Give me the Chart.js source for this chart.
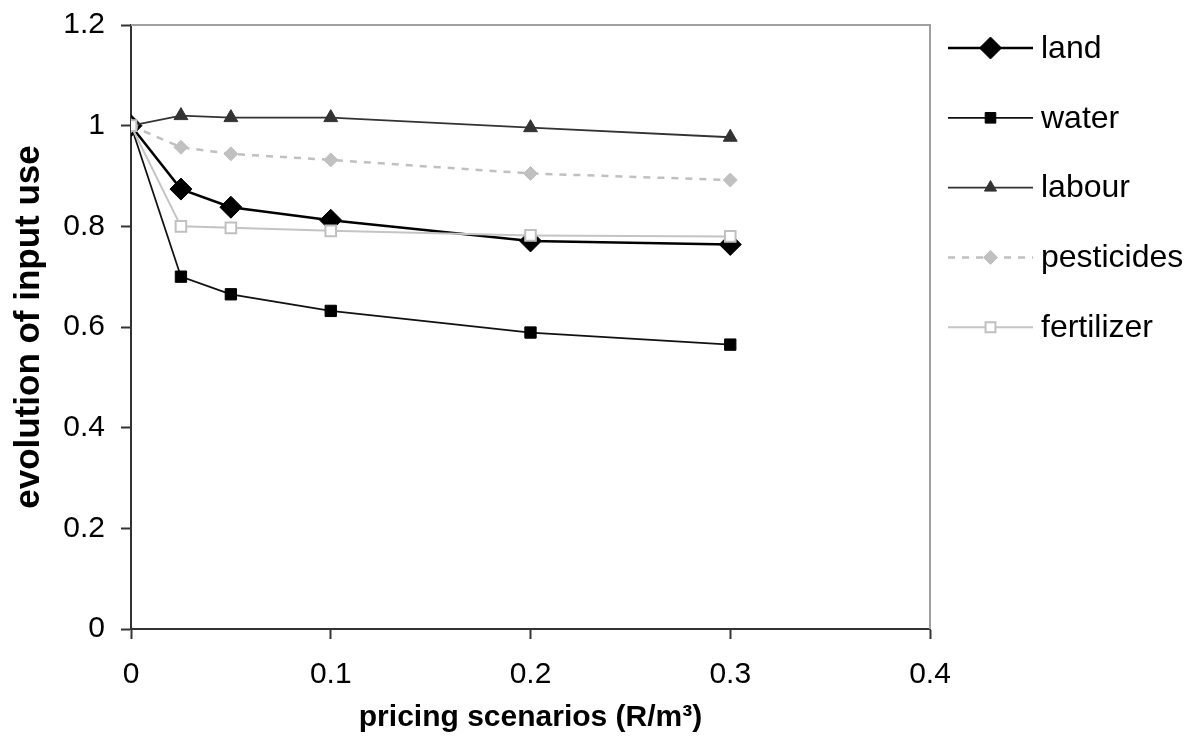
<!DOCTYPE html>
<html>
<head>
<meta charset="utf-8">
<script src="https://cdn.jsdelivr.net/npm/chart.js@4/dist/chart.umd.min.js"></script>
<style>
  body { margin: 0; background: #fff; }
  #c { display: block; }
</style>
</head>
<body>
<canvas id="c" width="1195" height="746"></canvas>
<script>
// pricing scenarios (R/m3)
const prices = [0, 0.025, 0.05, 0.1, 0.2, 0.3];

const land       = [1, 0.874, 0.838, 0.812, 0.771, 0.764];
const water      = [1, 0.700, 0.665, 0.632, 0.589, 0.565];
const labour     = [1, 1.020, 1.016, 1.016, 0.996, 0.977];
const pesticides = [1, 0.957, 0.944, 0.932, 0.905, 0.892];
const fertilizer = [1, 0.800, 0.797, 0.791, 0.782, 0.780];

const xTicks = [0, 0.1, 0.2, 0.3, 0.4];
const yTicks = [0, 0.2, 0.4, 0.6, 0.8, 1, 1.2];

const FONT = "'Liberation Sans', Arial, sans-serif";

function pts(vals) {
  return vals.map((v, i) => ({ x: prices[i], y: v }));
}

function marker(ctx, style, r, x, y, fill, stroke, lw) {
  ctx.save();
  ctx.beginPath();
  if (style === 'rectRot') {
    ctx.moveTo(x - r, y); ctx.lineTo(x, y - r); ctx.lineTo(x + r, y); ctx.lineTo(x, y + r);
  } else if (style === 'rect') {
    const s = Math.SQRT1_2 * r;
    ctx.rect(x - s, y - s, 2 * s, 2 * s);
  } else if (style === 'triangle') {
    for (let k = 0; k < 3; k++) {
      const a = k * 2 * Math.PI / 3;
      const px = x + Math.sin(a) * r, py = y - Math.cos(a) * r;
      if (k === 0) ctx.moveTo(px, py); else ctx.lineTo(px, py);
    }
  }
  ctx.closePath();
  ctx.fillStyle = fill;
  ctx.fill();
  ctx.lineWidth = lw;
  ctx.strokeStyle = stroke;
  ctx.stroke();
  ctx.restore();
}

const framePlugin = {
  id: 'frame',
  beforeDatasetsDraw(chart) {
    const { ctx, chartArea: a } = chart;
    ctx.save();
    ctx.strokeStyle = '#a0a0a0';
    ctx.lineWidth = 2;
    ctx.beginPath();
    ctx.moveTo(a.left, a.top);
    ctx.lineTo(a.right, a.top);
    ctx.lineTo(a.right, a.bottom);
    ctx.stroke();
    ctx.restore();
  }
};

const legendPlugin = {
  id: 'sideLegend',
  afterDraw(chart) {
    const ctx = chart.ctx;
    const x0 = 948, x1 = 1033, tx = 1041;
    const y0 = 48, step = 69.8;
    chart.data.datasets.forEach((ds, i) => {
      const y = y0 + i * step;
      ctx.save();
      ctx.strokeStyle = ds.borderColor;
      ctx.lineWidth = ds.borderWidth;
      ctx.setLineDash(ds.borderDash || []);
      ctx.beginPath();
      ctx.moveTo(x0, y);
      ctx.lineTo(x1, y);
      ctx.stroke();
      ctx.setLineDash([]);
      marker(ctx, ds.pointStyle, ds.legendRadius, (x0 + x1) / 2, y,
        ds.pointBackgroundColor, ds.pointBorderColor, ds.pointBorderWidth);
      ctx.fillStyle = '#000';
      ctx.font = '32px ' + FONT;
      ctx.textBaseline = 'middle';
      ctx.textAlign = 'left';
      ctx.fillText(ds.label, tx, y + 1);
      ctx.restore();
    });
  }
};

new Chart(document.getElementById('c'), {
  type: 'line',
  data: {
    datasets: [
      {
        label: 'land', data: pts(land), order: 4,
        borderColor: '#000', borderWidth: 2.5,
        pointStyle: 'rectRot', pointRadius: 11, legendRadius: 11,
        pointBackgroundColor: '#000', pointBorderColor: '#000', pointBorderWidth: 1
      },
      {
        label: 'water', data: pts(water), order: 3,
        borderColor: '#111', borderWidth: 1.8,
        pointStyle: 'rect', pointRadius: 8, legendRadius: 7.5,
        pointBackgroundColor: '#000', pointBorderColor: '#000', pointBorderWidth: 1
      },
      {
        label: 'labour', data: pts(labour), order: 2,
        borderColor: '#333', borderWidth: 1.8,
        pointStyle: 'triangle', pointRadius: 8, legendRadius: 7,
        pointBackgroundColor: '#333', pointBorderColor: '#333', pointBorderWidth: 1
      },
      {
        label: 'pesticides', data: pts(pesticides), order: 1,
        borderColor: '#c0c0c0', borderWidth: 2.5, borderDash: [7, 7],
        pointStyle: 'rectRot', pointRadius: 7, legendRadius: 7,
        pointBackgroundColor: '#c0c0c0', pointBorderColor: '#c0c0c0', pointBorderWidth: 1
      },
      {
        label: 'fertilizer', data: pts(fertilizer), order: 0,
        borderColor: '#c4c4c4', borderWidth: 2,
        pointStyle: 'rect', pointRadius: 7.5, legendRadius: 7,
        pointBackgroundColor: '#fff', pointBorderColor: '#c0c0c0', pointBorderWidth: 2
      }
    ]
  },
  options: {
    responsive: false,
    devicePixelRatio: 1,
    animation: false,
    tension: 0,
    layout: { padding: { left: 0, top: 25, right: 265, bottom: 0 } },
    plugins: {
      legend: { display: false },
      tooltip: { enabled: false }
    },
    scales: {
      x: {
        type: 'linear',
        min: 0, max: 0.4,
        afterFit: (s) => { s.height = 117; s.paddingLeft = 0; s.paddingRight = 0; },
        afterBuildTicks: (s) => { s.ticks = xTicks.map(v => ({ value: v })); },
        grid: { drawOnChartArea: false, drawTicks: true, tickLength: 10, tickColor: '#333', tickWidth: 2 },
        border: { display: true, color: '#333', width: 2 },
        ticks: {
          color: '#000', padding: 18, maxRotation: 0,
          font: { family: FONT, size: 30 },
          callback: (v) => String(Math.round(v * 10) / 10)
        },
        title: {
          display: true, text: 'pricing scenarios (R/m³)', color: '#000',
          font: { family: FONT, size: 30, weight: 'bold' },
          padding: { top: 0, bottom: 10 }
        }
      },
      y: {
        min: 0, max: 1.2,
        afterFit: (s) => { s.width = 131; s.paddingTop = 0; s.paddingBottom = 0; },
        afterBuildTicks: (s) => { s.ticks = yTicks.map(v => ({ value: v })); },
        grid: { drawOnChartArea: false, drawTicks: true, tickLength: 10, tickColor: '#333', tickWidth: 2 },
        border: { display: true, color: '#333', width: 2 },
        ticks: {
          color: '#000', padding: 16,
          font: { family: FONT, size: 30 },
          callback: (v) => String(Math.round(v * 10) / 10)
        },
        title: {
          display: true, text: 'evolution of input use', color: '#000',
          font: { family: FONT, size: 35, weight: 'bold' },
          padding: { top: 8, bottom: 0 }
        }
      }
    }
  },
  plugins: [framePlugin, legendPlugin]
});
</script>
</body>
</html>
